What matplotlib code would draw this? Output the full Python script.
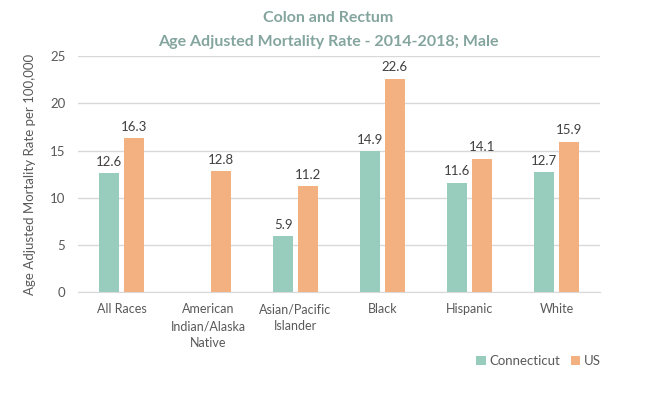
import matplotlib.pyplot as plt
import numpy as np

plt.rcParams['font.family'] = ['Lato', 'DejaVu Sans']

categories = ['All Races', 'American\nIndian/Alaska\nNative', 'Asian/Pacific\nIslander',
              'Black', 'Hispanic', 'White']
ct_vals = [12.6, np.nan, 5.9, 14.9, 11.6, 12.7]
us_vals = [16.3, 12.8, 11.2, 22.6, 14.1, 15.9]
yticks = [0, 5, 10, 15, 20, 25]

green = '#98CDBE'
orange = '#F3B080'
grey = '#595959'

fig = plt.figure(figsize=(6.57, 3.93), dpi=100)
ax = fig.add_axes([0.1187, 0.257, 0.7945, 0.600])

x = np.arange(len(categories))
w = 0.23
gap = 0.027
b1 = ax.bar(x - w/2 - gap, ct_vals, w, color=green, label='Connecticut', zorder=3)
b2 = ax.bar(x + w/2 + gap, us_vals, w, color=orange, label='US', zorder=3)

for bars, vals in [(b1, ct_vals), (b2, us_vals)]:
    for r, v in zip(bars, vals):
        if np.isnan(v):
            continue
        ax.annotate(f'{v:.1f}', (r.get_x() + r.get_width()/2, v), xytext=(0, 4),
                    textcoords='offset points', ha='center', va='bottom',
                    fontsize=9.5, color='#404040')

ax.set_xlim(-0.5, len(categories) - 0.5)
ax.set_ylim(0, 25)
ax.set_yticks(yticks)
ax.set_xticks(x)
ax.set_xticklabels(categories, fontsize=9, color=grey, linespacing=1.5)
ax.tick_params(axis='y', labelsize=9.5, labelcolor=grey, length=0, pad=9)
ax.tick_params(axis='x', length=0, pad=8)
ax.grid(axis='y', color='#D9D9D9', linewidth=1, zorder=0)
for s in ['top', 'right', 'left']:
    ax.spines[s].set_visible(False)
ax.spines['bottom'].set_color('#D9D9D9')

ax.set_ylabel('Age Adjusted Mortality Rate per 100,000', fontsize=9.5, color=grey, labelpad=10)

fig.text(0.5, 0.955, 'Colon and Rectum', ha='center', va='center',
         fontsize=11.5, fontweight='bold', color='#84A59E')
fig.text(0.5, 0.893, 'Age Adjusted Mortality Rate - 2014-2018; Male', ha='center', va='center',
         fontsize=11.5, fontweight='bold', color='#84A59E')

fig.legend(loc='center', bbox_to_anchor=(0.82, 0.082), ncol=2, frameon=False,
           fontsize=9.5, labelcolor=grey, handlelength=0.7, handleheight=0.7,
           handletextpad=0.3, columnspacing=0.8)

fig.savefig('out.png', dpi=100)
